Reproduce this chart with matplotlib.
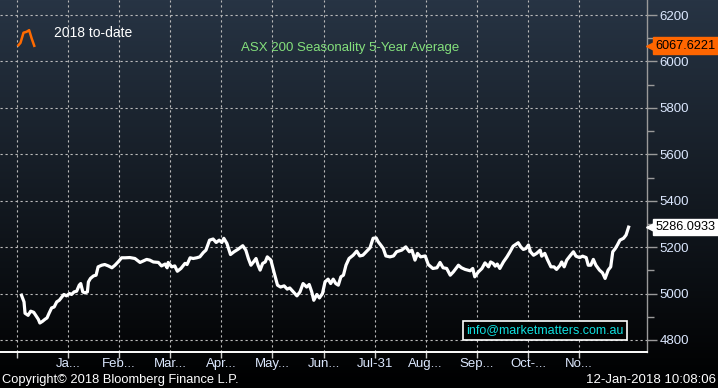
import numpy as np
import matplotlib
matplotlib.use("Agg")
import matplotlib.pyplot as plt

# 5-year average seasonality (x = month position, 1 = Jan)
avg_pos = [0.09, 0.14, 0.16, 0.22, 0.27, 0.33, 0.37, 0.42, 0.45, 0.50, 0.55, 0.59, 0.63, 0.68,
           0.73, 0.78, 0.83, 0.88, 0.92, 0.97, 1.03, 1.07, 1.12, 1.17, 1.22, 1.25, 1.29, 1.33,
           1.38, 1.40, 1.44, 1.50, 1.55, 1.59, 1.66, 1.72, 1.79, 1.86, 1.92, 1.98, 2.05, 2.12,
           2.21, 2.31, 2.41, 2.47, 2.54, 2.60, 2.67, 2.77, 2.83, 2.90, 2.94, 2.96, 3.03, 3.09,
           3.14, 3.21, 3.29, 3.33, 3.39, 3.45, 3.52, 3.58, 3.65, 3.70, 3.77, 3.84, 3.90, 3.96,
           4.01, 4.05, 4.11, 4.18, 4.25, 4.33, 4.42, 4.48, 4.53, 4.58, 4.63, 4.68, 4.72, 4.76,
           4.81, 4.86, 4.90, 4.97, 5.03, 5.10, 5.16, 5.23, 5.29, 5.34, 5.41, 5.48, 5.54, 5.60,
           5.67, 5.72, 5.77, 5.81, 5.87, 5.92, 5.98, 6.03, 6.09, 6.14, 6.19, 6.24, 6.29, 6.34,
           6.39, 6.44, 6.50, 6.58, 6.65, 6.71, 6.77, 6.85, 6.91, 6.97, 7.03, 7.07, 7.12, 7.17,
           7.22, 7.30, 7.37, 7.43, 7.53, 7.61, 7.68, 7.73, 7.79, 7.84, 7.90, 7.99, 8.05, 8.14,
           8.22, 8.28, 8.34, 8.41, 8.48, 8.54, 8.64, 8.70, 8.77, 8.87, 8.92, 8.96, 9.03, 9.10,
           9.16, 9.23, 9.27, 9.32, 9.36, 9.40, 9.45, 9.52, 9.59, 9.65, 9.71, 9.81, 9.86, 9.91,
           9.96, 10.01, 10.05, 10.11, 10.17, 10.24, 10.27, 10.33, 10.38, 10.45, 10.51, 10.56,
           10.63, 10.66, 10.71, 10.76, 10.82, 10.89, 10.94, 11.01, 11.07, 11.14, 11.18, 11.23,
           11.28, 11.33, 11.40, 11.46, 11.51, 11.57, 11.62, 11.66, 11.71, 11.75, 11.80, 11.87,
           11.92, 11.97]
avg_level = [4993, 4964, 4915, 4906, 4924, 4919, 4906, 4889, 4873, 4880, 4889, 4895, 4915, 4938,
             4942, 4964, 4971, 4985, 4996, 4990, 5000, 4996, 5007, 5010, 5036, 5043, 5007, 5003,
             5007, 5050, 5065, 5076, 5079, 5115, 5122, 5125, 5119, 5111, 5122, 5136, 5154, 5154,
             5155, 5151, 5134, 5140, 5147, 5144, 5136, 5134, 5119, 5127, 5111, 5134, 5115, 5119,
             5096, 5108, 5130, 5125, 5154, 5151, 5154, 5158, 5177, 5187, 5230, 5235, 5220, 5230,
             5220, 5238, 5216, 5168, 5180, 5191, 5206, 5187, 5151, 5122, 5136, 5151, 5122, 5101,
             5130, 5136, 5158, 5144, 5093, 5036, 5028, 5033, 5019, 5024, 5007, 4990, 5007, 5043,
             5028, 5039, 5007, 4971, 4996, 4981, 5000, 5050, 5062, 5043, 5062, 5043, 5036, 5072,
             5079, 5122, 5151, 5165, 5183, 5162, 5165, 5183, 5197, 5238, 5240, 5223, 5209, 5194,
             5162, 5158, 5162, 5180, 5187, 5201, 5180, 5187, 5144, 5173, 5158, 5162, 5125, 5108,
             5111, 5134, 5111, 5108, 5079, 5093, 5122, 5111, 5104, 5098, 5108, 5072, 5093, 5108,
             5132, 5115, 5136, 5130, 5118, 5127, 5108, 5136, 5158, 5180, 5204, 5219, 5201, 5190,
             5194, 5209, 5180, 5165, 5173, 5187, 5161, 5173, 5147, 5115, 5115, 5104,
             5122, 5136, 5115, 5144, 5161, 5180, 5161, 5155, 5161, 5155, 5122, 5122,
             5147, 5122, 5101, 5089, 5065, 5101, 5115, 5180, 5194, 5209, 5230, 5238,
             5252, 5286.0933]

# 2018 to-date
ytd_pos = [0.03, 0.07, 0.13, 0.19, 0.24, 0.29, 0.34]
ytd_level = [6070, 6080, 6124, 6128, 6135, 6099, 6067.6221]

month_ticks = [1, 2, 3, 4, 5, 6, 7, 8, 9, 10, 11]
month_labels = ["Ja...", "Feb...", "Mar...", "Apr...", "May...", "Jun...", "Jul-31",
                "Aug...", "Sep...", "Oct-...", "No..."]
y_ticks = [4800, 5000, 5200, 5400, 5600, 5800, 6000, 6200]

font = "Liberation Sans"
label_col = "#dce8ff"

fig = plt.figure(figsize=(7.18, 3.88), dpi=100)

# background gradient
bg = fig.add_axes([0, 0, 1, 1], zorder=-1)
grad = np.linspace(0, 1, 256).reshape(-1, 1)
top = np.array([0x27, 0x34, 0x44]) / 255
img = (1 - grad)[:, :, None] * top[None, None, :]
bg.imshow(img, aspect="auto", extent=[0, 1, 0, 1], origin="upper")
bg.axis("off")

ax = fig.add_axes([0, 36 / 388, 647 / 718, 352 / 388])
ax.set_facecolor("none")
ax.plot(avg_pos, avg_level, color="white", lw=2.3, solid_joinstyle="round", zorder=3)
ax.plot(ytd_pos, ytd_level, color="#ff6a00", lw=1.8, zorder=3)

ax.set_xlim(-0.33, 12.33)
ax.set_ylim(4748, 6265)

ax.yaxis.tick_right()
ax.set_yticks(y_ticks)
ax.set_yticks(np.arange(4900, 6300, 200), minor=True)
ax.tick_params(axis="y", which="major", colors="#9a9a9a", length=7, width=1, direction="out",
               labelcolor=label_col, labelsize=9.5, pad=2)
ax.tick_params(axis="y", which="minor", colors="#9a9a9a", length=5, width=1, direction="out")
ax.set_xticks([0] + month_ticks)
ax.set_xticklabels([""] + month_labels)
ax.tick_params(axis="x", colors="#cccccc", length=4, width=1, labelcolor=label_col,
               labelsize=9.5, pad=0.5)
for lab in ax.get_xticklabels() + ax.get_yticklabels():
    lab.set_fontfamily(font)

ax.grid(True, color="#bbbbbb", linestyle=(0, (2, 2.5)), linewidth=0.8)
for s in ["top", "left"]:
    ax.spines[s].set_visible(False)
ax.spines["bottom"].set_color("white")
ax.spines["bottom"].set_linewidth(1.4)
ax.spines["right"].set_color("#9a9a9a")
ax.spines["right"].set_linewidth(1)

# legend
ax.text(0.084, 0.905, "2018 to-date", transform=ax.transAxes, color="white",
        fontsize=10, family=font, va="center")
ax.text(0.541, 0.864, "ASX 200 Seasonality 5-Year Average", transform=ax.transAxes,
        color="#84e07c", fontsize=9.5, family=font, ha="center", va="center")

# last value tags
yt = ax.get_yaxis_transform()
for val, fc in [(ytd_level[-1], "#ff6600"), (avg_level[-1], "white")]:
    ax.text(1.013, val, f"{val:.4f}", transform=yt, color="black",
            fontsize=9.2, family=font, va="center", ha="left", zorder=5, clip_on=False,
            bbox=dict(boxstyle="square,pad=0.18", fc=fc, ec=fc))
    ax.plot([1.0055], [val], transform=yt, marker="<", ms=7, color=fc, mec=fc,
            clip_on=False, zorder=4)

# email box
ax.text(0.842, 0.061, "info@marketmatters.com.au", transform=ax.transAxes, color="#10e0e0",
        fontsize=9, family=font, ha="center", va="center", zorder=6,
        bbox=dict(boxstyle="square,pad=0.25", fc="black", ec="white", lw=1.2))

fig.text(0.003, 0.02, "Copyright\u00a9 2018 Bloomberg Finance L.P.", color="white",
         fontsize=9.3, family=font, va="center")
fig.text(0.997, 0.02, "12-Jan-2018 10:08:06", color="white", fontsize=9.5, family=font,
         va="center", ha="right")

fig.savefig("out.png", dpi=100)
